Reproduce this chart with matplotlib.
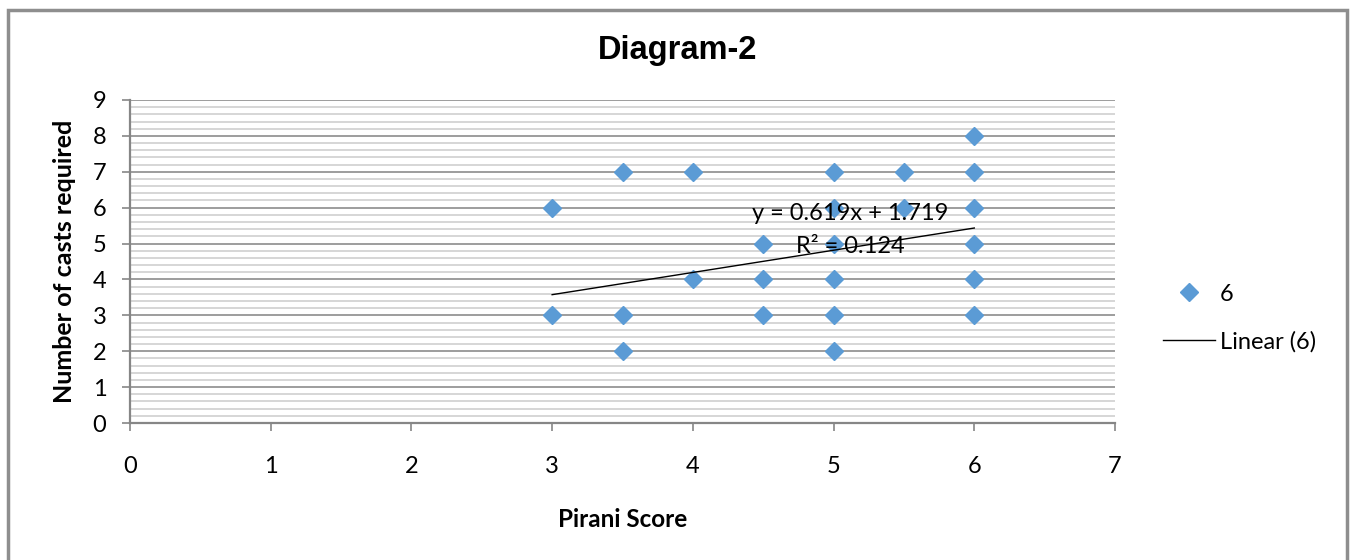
import matplotlib.pyplot as plt
from matplotlib.patches import Rectangle
from matplotlib.ticker import MultipleLocator
from matplotlib.lines import Line2D
import numpy as np

# Pirani score vs number of casts
pirani = [3, 3, 3.5, 3.5, 3.5, 4, 4, 4.5, 4.5, 4.5,
          5, 5, 5, 5, 5, 5, 5.5, 5.5, 6, 6, 6, 6, 6, 6]
casts = [6, 3, 7, 3, 2, 7, 4, 5, 4, 3,
         7, 6, 5, 4, 3, 2, 7, 6, 8, 7, 6, 5, 4, 3]
slope = 0.619
intercept = 1.719
r2 = 0.124

plt.rcParams['font.family'] = ['Lato', 'DejaVu Sans']

fig = plt.figure(figsize=(13.53, 5.6), dpi=100)
ax = fig.add_axes([130 / 1353, 1 - 423 / 560, (1115 - 130) / 1353, (423 - 100) / 560])

blue = '#5B9BD5'
ax.plot(pirani, casts, linestyle='none', marker='D', markersize=9.2,
        color=blue, zorder=3)

xs = np.array([min(pirani), max(pirani)])
ax.plot(xs, slope * xs + intercept, color='black', lw=1, zorder=4)

ax.text(5.12, 5.85, 'y = 0.619x + 1.719', ha='center', va='center', fontsize=17, zorder=5)
ax.text(5.12, 4.93, 'R² = 0.124', ha='center', va='center', fontsize=17, zorder=5)

ax.set_xlim(0, 7)
ax.set_ylim(0, 9)
ax.xaxis.set_major_locator(MultipleLocator(1))
ax.yaxis.set_major_locator(MultipleLocator(1))
ax.yaxis.set_minor_locator(MultipleLocator(0.2))
ax.grid(which='major', axis='y', color='#8C8C8C', lw=1.2, zorder=0)
ax.grid(which='minor', axis='y', color='#CFCFCF', lw=1.2, zorder=0)
ax.set_axisbelow(True)

for s in ['top', 'right']:
    ax.spines[s].set_visible(False)
for s in ['left', 'bottom']:
    ax.spines[s].set_color('#868686')
    ax.spines[s].set_linewidth(1.6)

ax.tick_params(axis='both', which='major', direction='out', length=6,
               color='#868686', width=1.2, labelsize=17)
ax.tick_params(axis='x', pad=18)
ax.tick_params(axis='y', pad=11)
ax.tick_params(axis='y', which='minor', length=0)

ax.set_xlabel('Pirani Score', fontsize=17.5, fontweight='bold', labelpad=22)
ax.set_ylabel('Number of casts required', fontsize=18, fontweight='bold', labelpad=12)

fig.text(678 / 1353, 1 - 50 / 560, 'Diagram-2', ha='center', va='center',
         fontsize=23.5, fontweight='bold', family='Liberation Sans')

handles = [Line2D([], [], linestyle='none', marker='D', markersize=9.2, color=blue),
           Line2D([], [], color='black', lw=1)]
fig.legend(handles, ['6', 'Linear (6)'], loc='center left',
           bbox_to_anchor=(1142 / 1353, 1 - 318 / 560), frameon=False,
           fontsize=17, handlelength=2.2, handletextpad=0.2, labelspacing=1.1)

fig.patches.append(Rectangle((8 / 1353, -0.05), (1347 - 8) / 1353, 1.05 - 10 / 560,
                             transform=fig.transFigure, fill=False,
                             edgecolor='#8E8E8E', lw=2.5, clip_on=False))

fig.savefig('out.png', dpi=100)
